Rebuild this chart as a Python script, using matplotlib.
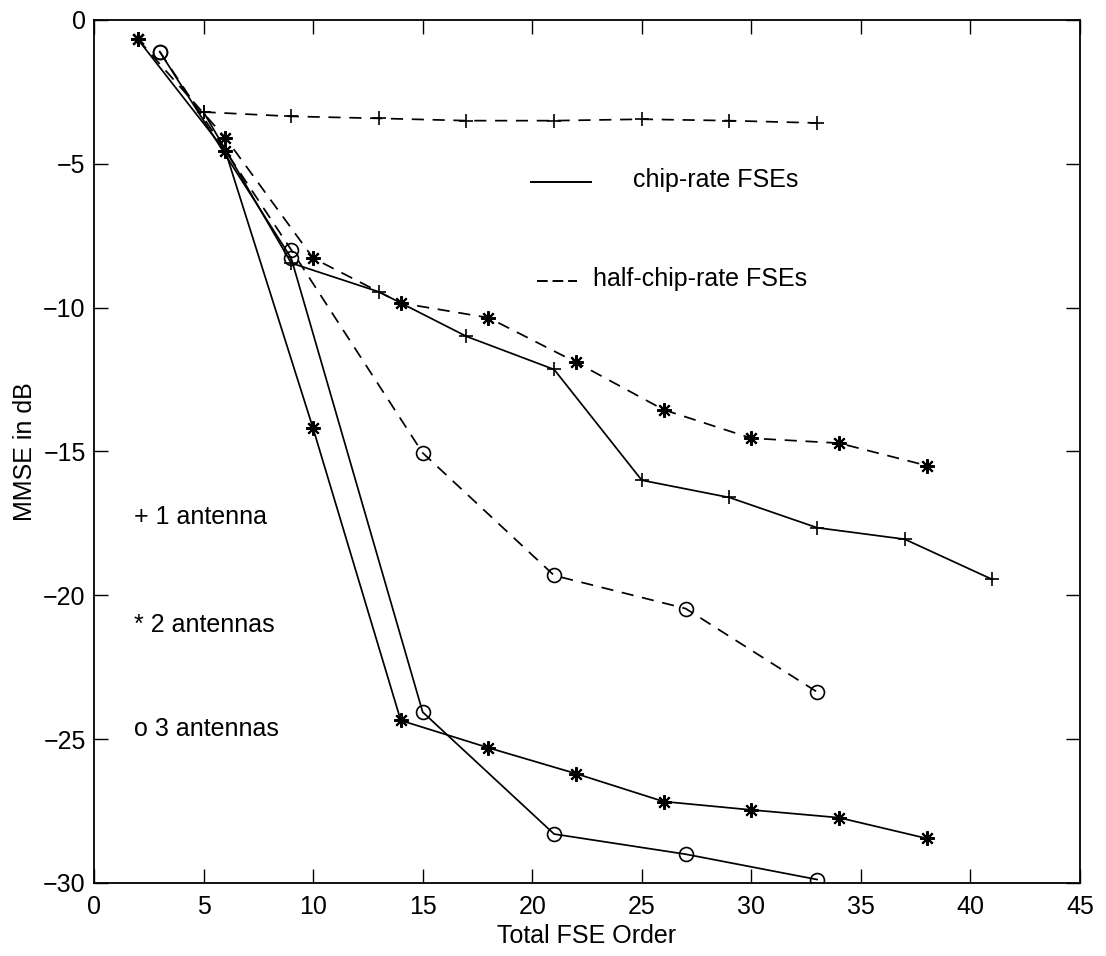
import matplotlib
matplotlib.use('Agg')
import matplotlib.pyplot as plt

plt.rcParams['font.family'] = ['Liberation Sans', 'DejaVu Sans']
plt.rcParams['font.size'] = 18

# 1 antenna (+)
x_1ant_chip = [5, 9, 13, 17, 21, 25, 29, 33, 37, 41]
y_1ant_chip = [-3.2, -8.45, -9.45, -11.0, -12.15, -16.0, -16.6, -17.65, -18.05, -19.45]
x_1ant_half = [5, 9, 13, 17, 21, 25, 29, 33]
y_1ant_half = [-3.2, -3.35, -3.42, -3.5, -3.5, -3.45, -3.5, -3.58]

# 2 antennas (*)
x_2ant = [2, 6, 10, 14, 18, 22, 26, 30, 34, 38]
y_2ant_chip = [-0.67, -4.57, -14.2, -24.35, -25.3, -26.2, -27.17, -27.46, -27.73, -28.45]
y_2ant_half = [-0.67, -4.1, -8.28, -9.84, -10.35, -11.9, -13.55, -14.54, -14.71, -15.49]

# 3 antennas (o)
x_3ant = [3, 9, 15, 21, 27, 33]
y_3ant_chip = [-1.1, -8.28, -24.06, -28.3, -29.0, -29.88]
y_3ant_half = [-1.1, -7.99, -15.05, -19.31, -20.46, -23.36]

star = (8, 2, 0)
dash = (0, (7, 5))
lw = 1.25

fig = plt.figure(figsize=(11.06, 9.56), dpi=100)
ax = fig.add_axes([0.085, 0.0764, 0.8915, 0.9027])

ax.plot(x_1ant_chip, y_1ant_chip, 'k-', lw=lw, marker='+', ms=10, mew=1.2)
ax.plot(x_1ant_half, y_1ant_half, color='k', ls=dash, lw=lw, marker='+', ms=10, mew=1.2)
ax.plot(x_2ant, y_2ant_chip, 'k-', lw=lw, marker=star, ms=10.5, mew=1.5)
ax.plot(x_2ant, y_2ant_half, color='k', ls=dash, lw=lw, marker=star, ms=10.5, mew=1.5)
ax.plot(x_3ant, y_3ant_chip, 'k-', lw=lw, marker='o', ms=10, mfc='none', mew=1.2)
ax.plot(x_3ant, y_3ant_half, color='k', ls=dash, lw=lw, marker='o', ms=10, mfc='none', mew=1.2)

# hand-made legend like the original
ax.plot([0.443, 0.504], [0.812, 0.812], 'k-', lw=1.4, transform=ax.transAxes)
ax.text(0.547, 0.815, 'chip-rate FSEs', transform=ax.transAxes, va='center')
ax.plot([0.449, 0.490], [0.697, 0.697], color='k', ls=(0, (5.5, 2.5)), lw=1.4,
        transform=ax.transAxes)
ax.text(0.506, 0.700, 'half-chip-rate FSEs', transform=ax.transAxes, va='center')

ax.text(0.041, 0.424, '+ 1 antenna', transform=ax.transAxes, va='center')
ax.text(0.041, 0.299, '* 2 antennas', transform=ax.transAxes, va='center')
ax.text(0.041, 0.178, 'o 3 antennas', transform=ax.transAxes, va='center')

ax.set_xlim(0, 45)
ax.set_ylim(-30, 0)
ax.set_xticks(range(0, 46, 5))
ax.set_yticks(range(-30, 1, 5))
ax.tick_params(direction='in', length=10, width=1, top=True, right=True)
ax.tick_params(axis='x', pad=9)
ax.tick_params(axis='y', pad=6)
for s in ax.spines.values():
    s.set_linewidth(1.3)

ax.set_xlabel('Total FSE Order', labelpad=3)
ax.set_ylabel('MMSE in dB', labelpad=4)

fig.savefig('out.png', dpi=100)
